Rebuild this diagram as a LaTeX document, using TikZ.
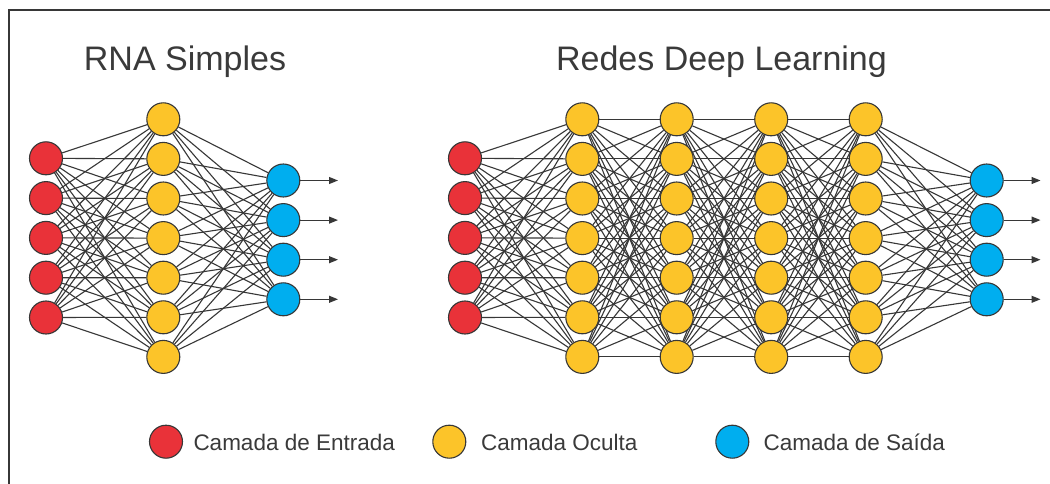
\documentclass[tikz,border=0pt]{standalone}
\usepackage{fontspec}
\setmainfont{Liberation Sans}
\usetikzlibrary{arrows.meta,backgrounds}
\definecolor{inred}{RGB}{233,50,57}
\definecolor{hidyel}{RGB}{252,196,41}
\definecolor{outblue}{RGB}{0,174,239}
\definecolor{linegray}{RGB}{55,55,55}
\definecolor{txtgray}{RGB}{58,58,58}
\begin{document}
\begin{tikzpicture}[x=1pt,y=-1pt,
  neuron/.style={circle,draw=linegray,line width=1.1pt,minimum size=33pt,inner sep=0pt},
  edge/.style={draw=linegray,line width=1.1pt},
  outarrow/.style={draw=linegray,line width=1.1pt,-{Triangle[length=9pt,width=7pt]}},
  frame/.style={draw=linegray,line width=2pt},
  titletext/.style={inner sep=0pt,text=txtgray,font=\fontsize{34}{40}\selectfont},
  legtext/.style={inner sep=0pt,text=txtgray,font=\fontsize{22.5}{26}\selectfont,anchor=base west}]
\useasboundingbox (0,0) rectangle (1050,484);
\draw[frame] (9,484) |- (1050,10.5);

% titles
\node[titletext,anchor=base] (t1) at (185,70.7) {RNA Simples};
\node[titletext,anchor=base] (t2) at (721.5,70.7) {Redes Deep Learning};

% simple network
\foreach \i in {1,...,5} \node[neuron,fill=inred] (sa\i) at (46,{158.3+(\i-1)*39.8}) {};
\foreach \i in {1,...,7} \node[neuron,fill=hidyel] (sh\i) at (163.3,{119.3+(\i-1)*39.6}) {};
\foreach \i in {1,...,4} {
  \node[neuron,fill=outblue] (so\i) at (283.3,{180.5+(\i-1)*39.6}) {};
  \coordinate (sx\i) at (338,{180.5+(\i-1)*39.6});
}

% deep network
\foreach \i in {1,...,5} \node[neuron,fill=inred] (da\i) at (465,{158.3+(\i-1)*39.8}) {};
\foreach \l/\x in {1/582.3,2/676.7,3/771.2,4/865.7}
  \foreach \i in {1,...,7} \node[neuron,fill=hidyel] (dh\l-\i) at (\x,{119.3+(\i-1)*39.6}) {};
\foreach \i in {1,...,4} {
  \node[neuron,fill=outblue] (do\i) at (986.7,{180.5+(\i-1)*39.6}) {};
  \coordinate (dx\i) at (1040.5,{180.5+(\i-1)*39.6});
}

% connections
\begin{scope}[on background layer]
  \fill[white] (0,0) rectangle (1050,484);
  \foreach \i in {1,...,5} \foreach \j in {1,...,7} \draw[edge] (sa\i) -- (sh\j);
  \foreach \i in {1,...,7} \foreach \j in {1,...,4} \draw[edge] (sh\i) -- (so\j);
  \foreach \i in {1,...,5} \foreach \j in {1,...,7} \draw[edge] (da\i) -- (dh1-\j);
  \foreach \l/\m in {1/2,2/3,3/4}
    \foreach \i in {1,...,7} \foreach \j in {1,...,7} \draw[edge] (dh\l-\i) -- (dh\m-\j);
  \foreach \i in {1,...,7} \foreach \j in {1,...,4} \draw[edge] (dh4-\i) -- (do\j);
\end{scope}
\foreach \i in {1,...,4} {
  \draw[outarrow] (so\i) -- (sx\i);
  \draw[outarrow] (do\i) -- (dx\i);
}

% legend
\node[neuron,fill=inred] (l1) at (166,441.7) {};
\node[legtext] (l1t) at (193.3,450) {Camada de Entrada};
\node[neuron,fill=hidyel] (l2) at (449.3,441.7) {};
\node[legtext] (l2t) at (481,450) {Camada Oculta};
\node[neuron,fill=outblue] (l3) at (732.3,441.7) {};
\node[legtext] (l3t) at (763.3,450) {Camada de Saída};
\end{tikzpicture}
\end{document}
